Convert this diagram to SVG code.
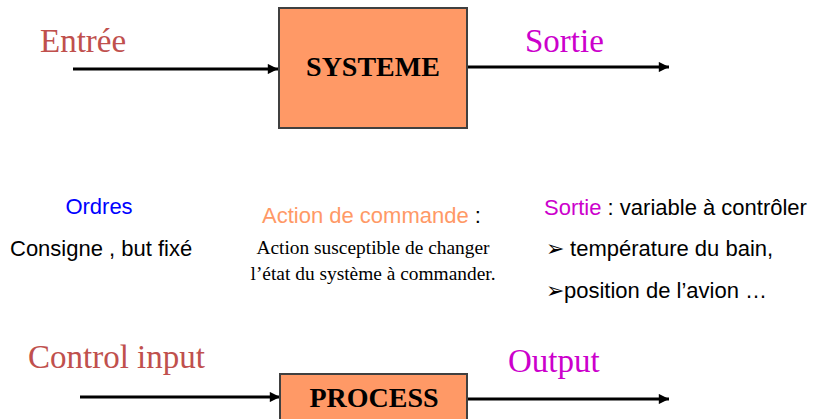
<svg xmlns="http://www.w3.org/2000/svg" width="814" height="419" viewBox="0 0 814 419">
<defs>
<style>
.box{fill:#FF9966;stroke:#404040;stroke-width:2}
.ttl{font-family:"Liberation Serif",serif;font-weight:bold;font-size:28px;fill:#000;text-anchor:middle}
.lbl{font-family:"Liberation Serif",serif;font-size:33px}
.red{fill:#C0504D}
.mag{fill:#CC00CC}
.sans{font-family:"Liberation Sans",Arial,sans-serif;font-size:22px;fill:#000}
.ser{font-family:"Liberation Serif",serif;font-size:19.4px;fill:#000;text-anchor:middle}
.wire{stroke:#000;stroke-width:3;fill:none;marker-end:url(#ah)}
</style>
<marker id="ah" viewBox="0 0 10 10" refX="10" refY="5" markerWidth="4" markerHeight="3.4" orient="auto" markerUnits="strokeWidth">
<path d="M0,0 L10,5 L0,10 Z" fill="#000"/>
</marker>
</defs>
<rect width="814" height="419" fill="#fff"/>
<g id="connectors">
<line class="wire" x1="73" y1="69" x2="278" y2="69"/>
<line class="wire" x1="468" y1="67" x2="669" y2="67"/>
<line class="wire" x1="80" y1="397" x2="280" y2="397"/>
<line class="wire" x1="468" y1="399" x2="669" y2="399"/>
</g>
<g id="systeme">
<rect class="box" x="279" y="8" width="188" height="120"/>
<text class="ttl" x="373" y="76">SYSTEME</text>
</g>
<g id="process">
<rect class="box" x="280" y="374" width="187" height="60"/>
<text class="ttl" x="374" y="407">PROCESS</text>
</g>
<g id="labels">
<text class="lbl red" x="40" y="52">Entrée</text>
<text class="lbl mag" x="525" y="52">Sortie</text>
<text class="lbl red" x="28" y="368">Control input</text>
<text class="lbl mag" x="508" y="372">Output</text>
</g>
<g id="ordres">
<text class="sans" x="99" y="214" text-anchor="middle" style="fill:#0000FF">Ordres</text>
<text class="sans" x="10" y="256">Consigne , but fixé</text>
</g>
<g id="action">
<text class="sans" x="262" y="223"><tspan style="fill:#FF9966">Action de commande</tspan> :</text>
<text class="ser" x="373" y="254">Action susceptible de changer</text>
<text class="ser" x="373" y="280">l’état du système à commander.</text>
</g>
<g id="sortie">
<text class="sans" x="544" y="215"><tspan class="mag">Sortie</tspan> : variable à contrôler</text>
<text class="sans" x="546" y="256">➢ température du bain,</text>
<text class="sans" x="546" y="298">➢position de l’avion …</text>
</g>
</svg>
